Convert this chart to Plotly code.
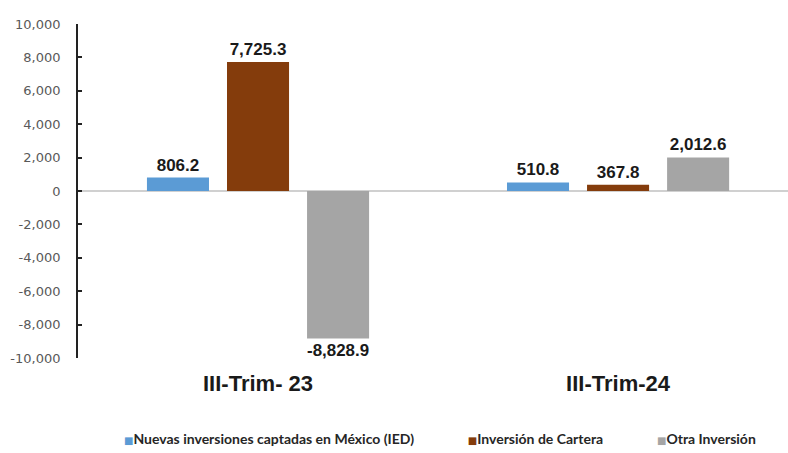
import plotly.graph_objects as go

categories = ["III-Trim- 23", "III-Trim-24"]
series_names = ["Nuevas inversiones captadas en México (IED)", "Inversión de Cartera", "Otra Inversión"]
ied = [806.2, 510.8]
cartera = [7725.3, 367.8]
otra = [-8828.9, 2012.6]
colors = ["#5B9BD5", "#843C0C", "#A5A5A5"]
tick_vals = [10000, 8000, 6000, 4000, 2000, 0, -2000, -4000, -6000, -8000, -10000]

label_font = dict(family="Liberation Sans Narrow, Arial Narrow, Liberation Sans", size=17, color="#1a1a1a")

fig = go.Figure()
for name, vals, col in zip(series_names, [ied, cartera, otra], colors):
    fig.add_trace(go.Bar(
        x=[0, 1], y=vals, name=name, marker=dict(color=col, line=dict(width=0)),
        text=[f"<b>{v:,.1f}</b>" for v in vals], textposition="outside",
        textfont=label_font, cliponaxis=False, showlegend=False,
    ))

# legend as a single centered text line with coloured squares
gap = "&nbsp;" * 15
legend_parts = [
    f"<span style='color:{c};font-size:10px'>■</span><b>{n}</b>" for n, c in zip(series_names, colors)
]
fig.add_annotation(
    text=gap.join(legend_parts), xref="paper", yref="paper", x=0.51, y=-0.24,
    xanchor="center", yanchor="middle", showarrow=False,
    font=dict(family="Lato, DejaVu Sans", size=14, color="#262626"),
)

fig.update_layout(
    width=788, height=453,
    margin=dict(l=78, r=0, t=24, b=95),
    paper_bgcolor="white", plot_bgcolor="white",
    barmode="group", bargap=0.333, bargroupgap=0.225,
    showlegend=False,
    xaxis=dict(range=[-0.5, 1.472], tickvals=[0, 1], ticktext=[f"<b>{c}</b>" for c in categories],
               tickfont=dict(family="Liberation Sans", size=22, color="#1a1a1a"),
               ticklabelstandoff=10,
               showline=False, showgrid=False, zeroline=False, ticks="", ticklen=0),
    yaxis=dict(range=[-10000, 10000], tickvals=tick_vals, ticktext=[f"{v:,}" for v in tick_vals],
               tickfont=dict(family="DejaVu Sans", size=13, color="#595959"),
               ticklabelstandoff=13,
               showline=True, linecolor="#222222", linewidth=1.8,
               ticks="inside", ticklen=4, tickcolor="#222222", tickwidth=1.5,
               showgrid=False, zeroline=True, zerolinecolor="#D0D0D0", zerolinewidth=1.5),
)

fig.write_html("out.html")
